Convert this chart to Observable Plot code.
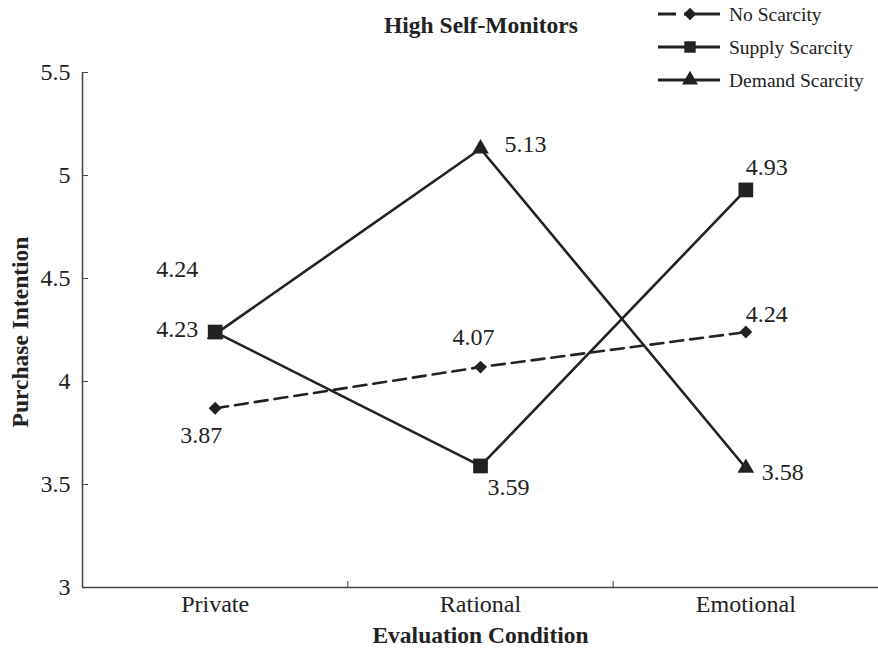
<!DOCTYPE html>
<html>
<head>
<meta charset="utf-8">
<script src="https://cdn.jsdelivr.net/npm/d3@7"></script>
<script src="https://cdn.jsdelivr.net/npm/@observablehq/plot@0.6"></script>
<style>
  html, body { margin: 0; padding: 0; background: #fff; }
  #wrap { position: relative; width: 878px; height: 649px; font-family: "Liberation Serif", "Times New Roman", serif; color: #222; }
  #title { position: absolute; left: 0; width: 962px; top: 11px; text-align: center; font-weight: bold; font-size: 23.5px; line-height: 28px; }
  #legend { position: absolute; left: 650px; top: 0; }
  #chart { position: absolute; left: 0; top: 0; }
  #chart svg, #chart svg text, #legend svg text { font-family: "Liberation Serif", "Times New Roman", serif; }
</style>
</head>
<body>
<div id="wrap">
  <div id="chart"></div>
  <div id="title">High Self-Monitors</div>
  <div id="legend"></div>
</div>
<script>
// ---- data ----
const categories = ["Private", "Rational", "Emotional"];
const seriesNames = ["No Scarcity", "Supply Scarcity", "Demand Scarcity"];
const noScarcity = [3.87, 4.07, 4.24];
const supplyScarcity = [4.24, 3.59, 4.93];
const demandScarcity = [4.23, 5.13, 3.58];
const yTicks = [3, 3.5, 4, 4.5, 5, 5.5];
const yAxisTitle = "Purchase Intention";
const xAxisTitle = "Evaluation Condition";

// ---- build table ----
const seriesValues = [noScarcity, supplyScarcity, demandScarcity];
const rows = [];
seriesNames.forEach((s, si) => {
  categories.forEach((c, ci) => {
    rows.push({series: s, cat: c, idx: ci + 0.5, value: seriesValues[si][ci]});
  });
});

// styles per series
const symbols = {"No Scarcity": "diamond2", "Supply Scarcity": "square", "Demand Scarcity": "triangle"};
const symR = {"No Scarcity": 5.8, "Supply Scarcity": 8.3, "Demand Scarcity": 6.2};
const dashes = {"No Scarcity": "13,7", "Supply Scarcity": null, "Demand Scarcity": null};
// label offsets (pixels) per series & category index
const labelOffsets = {
  "No Scarcity": [[-14, 27], [-7, -30], [21, -18]],
  "Supply Scarcity": [[-38, -63], [28, 21], [21, -23]],
  "Demand Scarcity": [[-38, -5], [45, -4], [37, 4]]
};

const ink = "#222";
const font = "Liberation Serif";
const drawOrder = ["No Scarcity", "Demand Scarcity", "Supply Scarcity"];

const marks = [];
for (const s of drawOrder) {
  const d = rows.filter(r => r.series === s);
  marks.push(Plot.line(d, {x: "idx", y: "value", stroke: ink, strokeWidth: 2.6,
    strokeDasharray: dashes[s] || undefined}));
}
for (const s of drawOrder) {
  const d = rows.filter(r => r.series === s);
  marks.push(Plot.dot(d, {x: "idx", y: "value", symbol: () => symbols[s], r: symR[s],
    fill: ink, stroke: "none"}));
}
for (const s of seriesNames) {
  rows.filter(r => r.series === s).forEach((r, i) => {
    const [dx, dy] = labelOffsets[s][i];
    marks.push(Plot.text([r], {x: "idx", y: "value", text: d => d.value.toFixed(2),
      dx, dy, fontSize: 24, fontFamily: font, fill: ink}));
  });
}

const chart = Plot.plot({
  width: 878,
  height: 649,
  marginLeft: 82,
  marginRight: 0,
  marginTop: 72,
  marginBottom: 62,
  style: {fontFamily: font, color: ink, background: "transparent"},
  symbol: {type: "identity"},
  x: {type: "linear", domain: [0, categories.length]},
  y: {domain: [3, 5.5]},
  marks: [
    Plot.ruleY([3], {stroke: "#444", strokeWidth: 1.5}),
    Plot.ruleX([0], {stroke: "#444", strokeWidth: 1.5}),
    Plot.axisY({ticks: yTicks, tickSize: -6, tickPadding: 18, fontSize: 24, fontFamily: font,
      tickFormat: d => String(d), label: null, stroke: "#444"}),
    Plot.axisX({ticks: d3.range(1, categories.length), tickSize: -6, tickFormat: () => "", label: null, stroke: "#444"}),
    Plot.axisX({ticks: categories.map((c, i) => i + 0.5), tickSize: 0, tickPadding: 7, fontSize: 24, fontFamily: font,
      tickFormat: (d) => categories[Math.floor(d)], label: null}),
    Plot.text([yAxisTitle], {frameAnchor: "left", textAnchor: "middle", dx: -62, dy: 2, rotate: -90, fontSize: 23.5,
      fontWeight: "bold", fontFamily: font, fill: ink}),
    Plot.text([xAxisTitle], {frameAnchor: "bottom", dy: 55, fontSize: 23.5, fontWeight: "bold", fontFamily: font, fill: ink}),
    ...marks
  ]
});
document.getElementById("chart").appendChild(chart);

// ---- legend ----
const lg = d3.select("#legend").append("svg").attr("width", 228).attr("height", 100);
seriesNames.forEach((s, i) => {
  const y = 14 + i * 33;
  const g = lg.append("g").attr("transform", `translate(0,${y})`);
  g.append("line").attr("x1", 8).attr("x2", 70).attr("y1", 0).attr("y2", 0)
    .attr("stroke", ink).attr("stroke-width", 3)
    .attr("stroke-dasharray", i === 0 ? "18,8,40" : null);
  const sym = {"No Scarcity": d3.symbolDiamond2, "Supply Scarcity": d3.symbolSquare, "Demand Scarcity": d3.symbolTriangle}[s];
  const size = {"No Scarcity": 100, "Supply Scarcity": 130, "Demand Scarcity": 110}[s];
  g.append("path").attr("d", d3.symbol(sym, size)()).attr("transform", "translate(40,0)").attr("fill", ink);
  g.append("text").attr("x", 79).attr("y", 0).attr("dy", "0.35em").attr("font-size", 19.5)
    .attr("font-family", font).attr("fill", ink).text(s);
});
</script>
</body>
</html>
